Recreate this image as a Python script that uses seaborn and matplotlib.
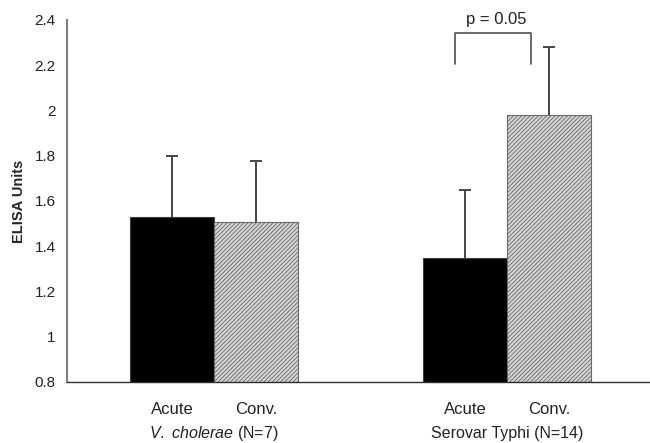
import matplotlib
matplotlib.use("Agg")
import matplotlib.pyplot as plt
import seaborn as sns
import pandas as pd
import numpy as np

groups = ["V. cholerae", "Serovar Typhi"]
phases = ["Acute", "Conv."]
means_acute = [1.53, 1.35]
means_conv = [1.505, 1.98]
err_acute = [0.27, 0.30]
err_conv = [0.27, 0.30]
group_labels = ["$\\mathit{V.}$ $\\mathit{cholerae}$ (N=7)", "Serovar Typhi (N=14)"]
yticks = [0.8, 1.0, 1.2, 1.4, 1.6, 1.8, 2.0, 2.2, 2.4]
ytick_labels = ["0.8", "1", "1.2", "1.4", "1.6", "1.8", "2", "2.2", "2.4"]
p_label = "p = 0.05"

df = pd.DataFrame({
    "group": groups * 2,
    "phase": ["Acute"] * 2 + ["Conv."] * 2,
    "value": means_acute + means_conv,
    "err": err_acute + err_conv,
})

sns.set_style("white")
plt.rcParams["font.family"] = ["Liberation Sans", "DejaVu Sans"]
plt.rcParams["mathtext.fontset"] = "custom"
plt.rcParams["mathtext.it"] = "Liberation Sans:italic"
plt.rcParams["mathtext.rm"] = "Liberation Sans"
plt.rcParams["hatch.linewidth"] = 0.6

fig = plt.figure(figsize=(6.5, 4.43), dpi=100)
ax = fig.add_axes([0.103, 0.1377, 0.897, 0.8173])

sns.barplot(data=df, x="group", y="value", hue="phase", order=groups,
            hue_order=phases, palette=["black", "#d4d4d4"], width=0.574,
            errorbar=None, ax=ax, legend=False, saturation=1)

bars = [p for p in ax.patches if p.get_height() > 0]
for patch in bars:
    fc = patch.get_facecolor()
    patch.set_edgecolor("#404040")
    patch.set_linewidth(0.8)
    if fc[0] > 0.5:
        patch.set_hatch("////////")
        patch.set_edgecolor("#6a6a6a")

# error bars (upper only)
for patch in bars:
    x = patch.get_x() + patch.get_width() / 2
    h = patch.get_height()
    row = df[np.isclose(df["value"], h)]
    e = row["err"].values[0]
    _, caps, _ = ax.errorbar([x], [h], yerr=[[0], [e]], fmt="none", ecolor="#454545",
                             elinewidth=1.4, capsize=4, capthick=1.4)
    caps[0].set_visible(False)

ax.set_ylim(0.8, 2.4)
ax.set_xlim(-0.502, 1.488)
ax.set_yticks(yticks)
ax.set_yticklabels(ytick_labels, fontsize=11, color="#222222")
ax.set_xticks([0.5])
ax.set_xticklabels([""])
ax.tick_params(axis="y", direction="out", length=4, width=1, color="#606060", pad=4)
ax.tick_params(axis="x", direction="out", length=3, width=1, color="#808080")
ax.set_xlabel("")
ax.set_ylabel("ELISA Units", fontsize=10.5, fontweight="bold", labelpad=6)

sns.despine(ax=ax, top=True, right=True)
ax.spines["left"].set_color("#808080")
ax.spines["left"].set_linewidth(1.5)
ax.spines["bottom"].set_color("#303030")
ax.spines["bottom"].set_linewidth(1.0)

# sub-labels
trans = ax.get_xaxis_transform()
for patch in bars:
    x = patch.get_x() + patch.get_width() / 2
    lab = "Acute" if patch.get_facecolor()[0] < 0.5 else "Conv."
    ax.text(x, -0.075, lab, transform=trans, ha="center", va="center", fontsize=12, color="#222222")
for i, gl in enumerate(group_labels):
    ax.text(i, -0.142, gl, transform=trans, ha="center", va="center", fontsize=11.5, color="#222222")

# significance bracket
bx = [0.823, 0.823, 1.082, 1.082]
by = [2.205, 2.343, 2.343, 2.205]
ax.plot(bx, by, color="#505050", lw=1.2, clip_on=False)
ax.text(0.962, 2.40, p_label, ha="center", va="center", fontsize=12, color="#222222")

fig.savefig("out.png", dpi=100)
